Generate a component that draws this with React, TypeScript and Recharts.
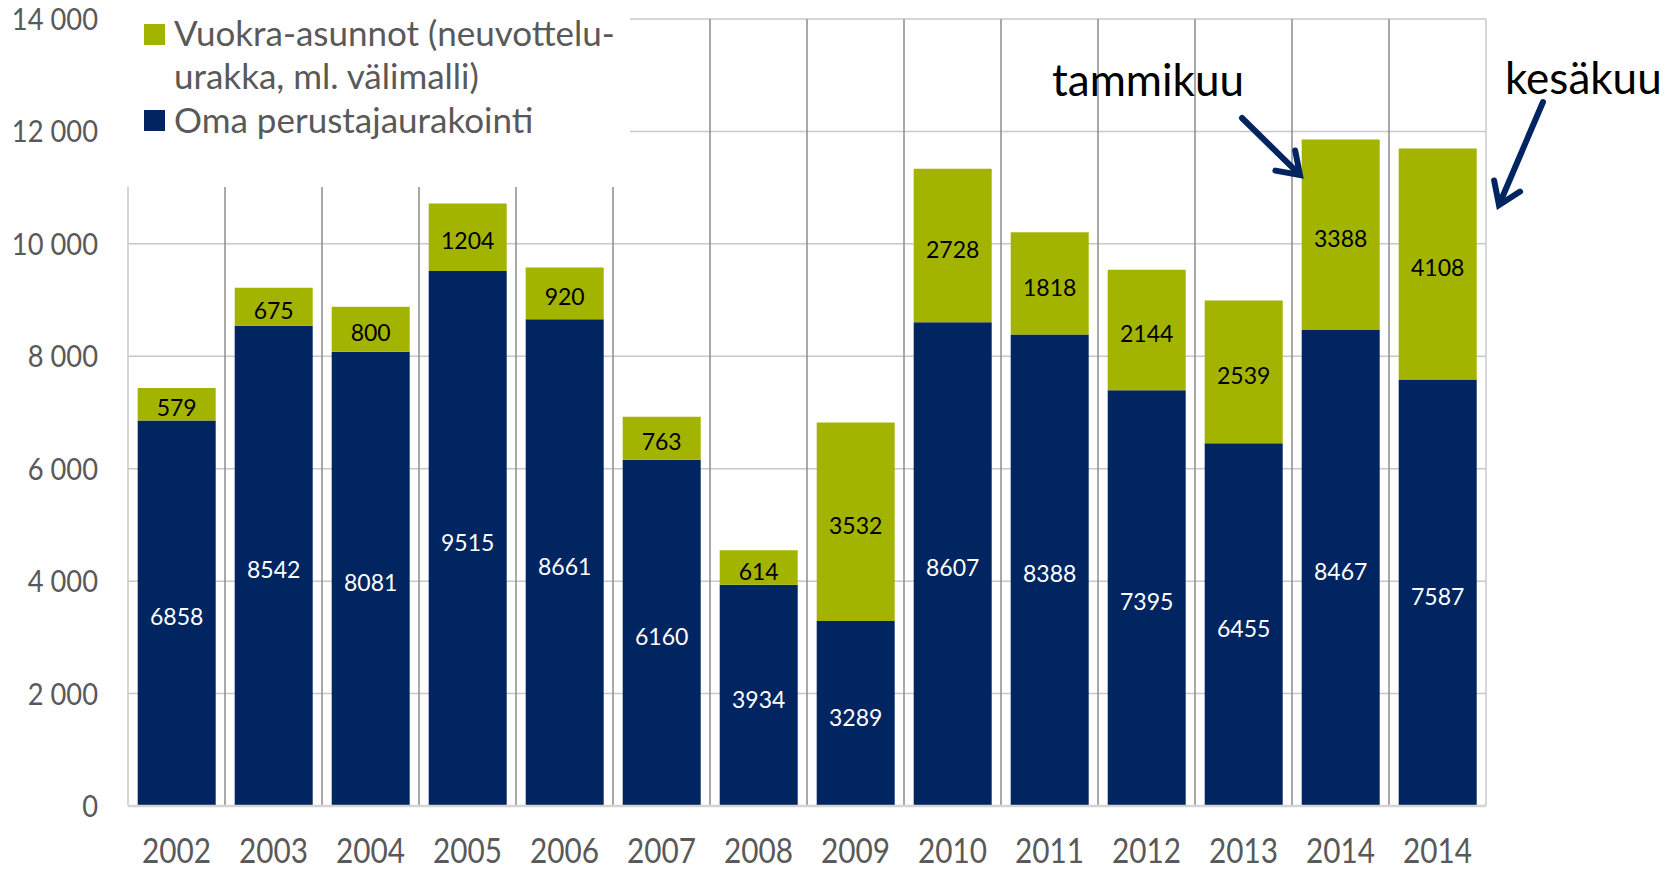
import React from "react";
import {
  BarChart,
  Bar,
  XAxis,
  YAxis,
  CartesianGrid,
  LabelList,
} from "recharts";

// periods (2014 appears twice: January and June)
const periods = [
  "2002", "2003", "2004", "2005", "2006", "2007", "2008",
  "2009", "2010", "2011", "2012", "2013", "2014-01", "2014-06",
];
const omaValues = [6858, 8542, 8081, 9515, 8661, 6160, 3934, 3289, 8607, 8388, 7395, 6455, 8467, 7587];
const vuokraValues = [579, 675, 800, 1204, 920, 763, 614, 3532, 2728, 1818, 2144, 2539, 3388, 4108];
const yTicks = [0, 2000, 4000, 6000, 8000, 10000, 12000, 14000];

const vuokraName = ["Vuokra-asunnot (neuvottelu-", "urakka, ml. välimalli)"];
const omaName = "Oma perustajaurakointi";

const GREEN = "#A3B400";
const NAVY = "#002561";
const GRAY_TEXT = "#595959";
const LATO = "Lato, 'Open Sans', sans-serif";

const data = periods.map((p, i) => ({
  period: p,
  oma: omaValues[i],
  vuokra: vuokraValues[i],
}));

const W = 1674;
const H = 871;

function formatThousands(v: number) {
  return v === 0 ? "0" : `${Math.floor(v / 1000)} ${String(v % 1000).padStart(3, "0")}`;
}

function bandEdges(offset: any, inner: boolean) {
  const n = periods.length;
  const step = offset.width / n;
  if (!inner) return [offset.left, offset.left + offset.width];
  const xs: number[] = [];
  for (let i = 1; i < n; i++) xs.push(offset.left + i * step);
  return xs;
}

// tick labels in the original are a tall, condensed face -> squeeze Lato horizontally
function XTick({ x, y, payload }: any) {
  return (
    <g transform={`translate(${x},${y + 57}) scale(0.85,1)`}>
      <text textAnchor="middle" fill={GRAY_TEXT} fontSize={35} fontFamily={LATO}>
        {String(payload.value).slice(0, 4)}
      </text>
    </g>
  );
}

function YTick({ x, y, payload }: any) {
  return (
    <g transform={`translate(${x},${y + 11}) scale(0.91,1)`}>
      <text textAnchor="end" fill={GRAY_TEXT} fontSize={30} fontFamily={LATO}>
        {formatThousands(payload.value)}
      </text>
    </g>
  );
}

function Arrow({ x1, y1, x2, y2 }: { x1: number; y1: number; x2: number; y2: number }) {
  const a = Math.atan2(y2 - y1, x2 - x1);
  const len = 25;
  const spread = 0.6;
  const hx1 = x2 - len * Math.cos(a - spread);
  const hy1 = y2 - len * Math.sin(a - spread);
  const hx2 = x2 - len * Math.cos(a + spread);
  const hy2 = y2 - len * Math.sin(a + spread);
  return (
    <g stroke={NAVY} strokeWidth={6} fill="none" strokeLinecap="round">
      <line x1={x1} y1={y1} x2={x2 - 3 * Math.cos(a)} y2={y2 - 3 * Math.sin(a)} />
      <polyline points={`${hx1},${hy1} ${x2},${y2} ${hx2},${hy2}`} strokeLinejoin="miter" />
    </g>
  );
}

export default function App() {
  return (
    <div style={{ position: "absolute", left: 0, top: 0, width: W, height: H, background: "#fff" }}>
      <BarChart
        width={W}
        height={H}
        data={data}
        margin={{ top: 19, right: 188, left: 0, bottom: 0 }}
        barCategoryGap="10%"
      >
        <CartesianGrid vertical={false} stroke="#c8c8c8" strokeWidth={1.5} />
        <CartesianGrid
          horizontal={false}
          stroke="#c8c8c8"
          strokeWidth={1.5}
          verticalCoordinatesGenerator={({ offset }: any) => bandEdges(offset, false)}
        />
        <CartesianGrid
          horizontal={false}
          stroke="#8c8c8c"
          strokeWidth={1.5}
          verticalCoordinatesGenerator={({ offset }: any) => bandEdges(offset, true)}
        />
        <XAxis
          dataKey="period"
          height={65}
          tick={<XTick />}
          tickLine={false}
          tickSize={0}
          tickMargin={0}
          axisLine={{ stroke: "#d4d4d4", strokeWidth: 2.5 }}
          interval={0}
        />
        <YAxis
          width={128}
          domain={[0, 14000]}
          ticks={yTicks}
          tick={<YTick />}
          tickLine={false}
          tickSize={0}
          tickMargin={30}
          axisLine={false}
        />
        <Bar dataKey="oma" stackId="a" fill={NAVY} isAnimationActive={false}>
          <LabelList dataKey="oma" position="center" dy={4} fill="#fff" fontSize={23} fontFamily={LATO} />
        </Bar>
        <Bar dataKey="vuokra" stackId="a" fill={GREEN} isAnimationActive={false}>
          <LabelList dataKey="vuokra" position="center" dy={4} fill="#000" fontSize={23} fontFamily={LATO} />
        </Bar>
      </BarChart>

      <svg
        width={W}
        height={H}
        style={{ position: "absolute", left: 0, top: 0, pointerEvents: "none" }}
      >
        {/* legend box */}
        <rect x={124} y={0} width={506} height={187} fill="#fff" />
        <rect x={144} y={24} width={21} height={21} fill={GREEN} />
        <rect x={144} y={110} width={21} height={21} fill={NAVY} />
        <g fill={GRAY_TEXT} fontFamily={LATO} fontSize={35}>
          <text x={174} y={46}>{vuokraName[0]}</text>
          <text x={174} y={89}>{vuokraName[1]}</text>
          <text x={174} y={133}>{omaName}</text>
        </g>

        {/* month annotations */}
        <g fill="#000" fontFamily={LATO} fontSize={44}>
          <text x={1052} y={96}>tammikuu</text>
          <text x={1505} y={94}>kesäkuu</text>
        </g>
        <Arrow x1={1242} y1={118} x2={1300} y2={175} />
        <Arrow x1={1543} y1={102} x2={1499} y2={205} />
      </svg>
    </div>
  );
}
